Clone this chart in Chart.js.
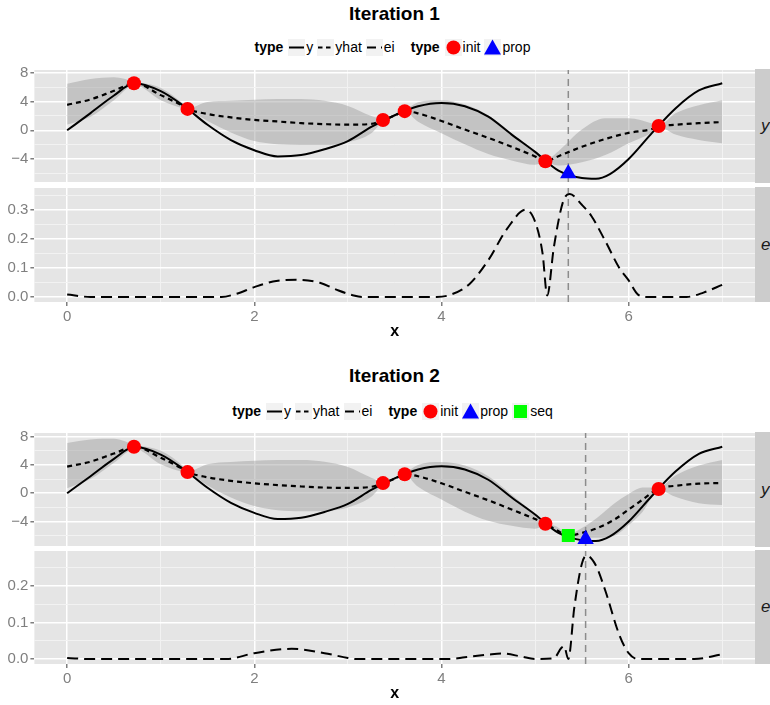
<!DOCTYPE html>
<html lang="en">
<head>
<meta charset="UTF-8">
<title>Iteration 1 / Iteration 2</title>
<style>
    body { margin: 0; background: #fff; font-family: 'Liberation Sans', Arial, sans-serif; }
    #wrap { position: relative; width: 770px; height: 705px; overflow: hidden; }
    canvas { position: absolute; left: 0; }
    .title { position: absolute; left: 34px; width: 721px; text-align: center; font-weight: bold; font-size: 19px; line-height: 22px; color: #000; }
    .legend { position: absolute; left: 34px; width: 721px; height: 20px; display: flex; justify-content: center; align-items: center; font-size: 14px; color: #000; }
    .legend b { margin-right: 5px; }
    .key { width: 17px; height: 17px; background: #F2F2F2; margin-right: 1px; }
    .key svg { display: block; }
    .lab { margin-right: 4px; }
    .gap { width: 12px; }
    .strip { position: absolute; left: 755px; width: 15px; background: #CCCCCC; overflow: hidden; font-style: italic; font-size: 17px; color: #1a1a1a; display: flex; align-items: center; }
    .strip span { padding-left: 6px; white-space: nowrap; }
</style>
<script src="https://cdn.jsdelivr.net/npm/chart.js"></script>
</head>
<body>
<div id="wrap">
    <div class="title" style="top:3px">Iteration 1</div>
    <div class="legend" id="leg1" style="top:37px"></div>
    <canvas id="c1y"></canvas>
    <canvas id="c1e"></canvas>
    <div class="title" style="top:365px">Iteration 2</div>
    <div class="legend" id="leg2" style="top:401px"></div>
    <canvas id="c2y"></canvas>
    <canvas id="c2e"></canvas>
</div>
<script>
    // ---- data ----
    const xTicks = [0, 1, 2, 3, 4, 5, 6, 7];
    const yTicks = [-6, -4, -2, 0, 2, 4, 6, 8];
    const eiTicks1 = [0, 0.05, 0.1, 0.15, 0.2, 0.25, 0.3, 0.35];
    const eiTicks2 = [0, 0.05, 0.1, 0.15, 0.2, 0.25];

    // true function y (same in both iterations)
    const yX = [0, 0.25, 0.5, 0.72, 1.0, 1.25, 1.5, 1.75, 2.0, 2.25, 2.5, 2.75, 3.0, 3.25, 3.5, 3.75, 4.0, 4.25, 4.5, 4.75, 5.0, 5.25, 5.5, 5.65, 5.8, 6.0, 6.25, 6.5, 6.75, 7.0];
    const yTrue = [0, 2.4, 4.85, 6.55, 5.45, 3.35, 0.77, -1.36, -2.77, -3.64, -3.45, -2.64, -1.5, 0.47, 2.1, 3.36, 3.82, 3.36, 1.9, -0.6, -3.0, -5.6, -6.64, -6.75, -6.1, -4.0, -0.36, 3.05, 5.55, 6.55];

    // initial design points
    const initX = [0.714, 1.286, 3.375, 3.607, 5.11, 6.32];
    const initY = [6.55, 2.98, 1.43, 2.67, -4.3, 0.6];

    // iteration 1: model mean and band
    const bandX1 = [0, 0.25, 0.5, 0.72, 1.0, 1.25, 1.29, 1.5, 1.75, 2.0, 2.25, 2.5, 2.75, 3.0, 3.25, 3.38, 3.5, 3.61, 3.75, 4.0, 4.25, 4.5, 4.75, 5.0, 5.11, 5.25, 5.5, 5.75, 6.0, 6.25, 6.32, 6.5, 6.75, 7.0];
    const yhat1 = [3.55, 4.3, 5.5, 6.55, 4.9, 3.3, 2.97, 2.27, 1.8, 1.45, 1.23, 1.0, 0.86, 0.78, 0.9, 1.45, 2.05, 2.68, 2.36, 1.3, 0.1, -1.05, -2.3, -3.64, -4.32, -3.6, -2.3, -1.2, -0.36, 0.18, 0.55, 0.77, 1.0, 1.14];
    const hi1 = [6.5, 7.15, 7.4, 6.8, 5.9, 3.6, 3.1, 3.95, 4.1, 4.27, 4.36, 4.36, 4.1, 3.4, 2.0, 1.6, 2.2, 2.8, 3.9, 4.18, 3.6, 2.1, -0.4, -2.9, -4.1, -2.9, 0.1, 1.68, 1.68, 0.95, 0.65, 2.36, 3.5, 4.18];
    const lo1 = [0.8, 1.9, 4.2, 6.3, 4.2, 3.0, 2.85, 1.3, -0.3, -1.5, -1.95, -2.05, -2.05, -1.65, -0.4, 1.3, 1.9, 2.55, 1.2, -0.4, -1.95, -3.3, -4.2, -4.8, -4.5, -4.9, -4.45, -3.45, -1.8, -0.3, 0.45, -0.6, -1.36, -1.8];
    const propX1 = 5.355, propY1 = -6.0;
    const eiX1 = [0, 0.25, 0.5, 1.0, 1.5, 1.65, 1.8, 2.0, 2.2, 2.45, 2.7, 2.9, 3.05, 3.15, 3.5, 3.95, 4.1, 4.3, 4.5, 4.7, 4.9, 5.0, 5.08, 5.13, 5.2, 5.3, 5.37, 5.5, 5.6, 5.75, 5.9, 6.0, 6.1, 6.2, 6.5, 6.62, 6.8, 7.0];
    const ei1 = [0.008, 0, 0, 0, 0, 0, 0.01, 0.034, 0.053, 0.059, 0.049, 0.022, 0.006, 0, 0, 0, 0.008, 0.045, 0.127, 0.235, 0.301, 0.26, 0.15, 0.005, 0.17, 0.33, 0.355, 0.318, 0.28, 0.193, 0.1, 0.057, 0.008, 0, 0, 0, 0.015, 0.042];

    // iteration 2
    const bandX2 = [0, 0.25, 0.5, 0.72, 1.0, 1.25, 1.29, 1.5, 1.75, 2.0, 2.25, 2.5, 2.75, 3.0, 3.25, 3.38, 3.5, 3.61, 3.75, 4.0, 4.25, 4.5, 4.75, 5.0, 5.11, 5.23, 5.355, 5.5, 5.65, 5.85, 6.0, 6.15, 6.32, 6.5, 6.75, 7.0];
    const yhat2 = [3.75, 4.45, 5.6, 6.55, 5.0, 3.3, 2.97, 2.25, 1.75, 1.4, 1.15, 0.95, 0.8, 0.75, 0.9, 1.45, 2.05, 2.68, 2.4, 1.4, 0.2, -1.0, -2.3, -3.65, -4.3, -5.2, -5.98, -5.6, -5.0, -3.7, -2.3, -0.9, 0.65, 1.05, 1.35, 1.45];
    const hi2 = [7.1, 7.6, 7.7, 6.85, 6.0, 3.7, 3.1, 4.1, 4.4, 4.6, 4.7, 4.7, 4.45, 3.7, 2.2, 1.6, 2.25, 2.85, 4.0, 4.4, 3.9, 2.4, -0.2, -2.9, -4.05, -4.7, -5.75, -4.9, -3.6, -1.4, -0.1, 0.8, 0.85, 2.5, 3.9, 4.7];
    const lo2 = [0.7, 2.0, 4.3, 6.25, 4.1, 2.95, 2.85, 1.1, -0.6, -1.8, -2.4, -2.55, -2.5, -2.0, -0.5, 1.3, 1.85, 2.5, 0.9, -0.9, -2.6, -3.9, -4.6, -5.0, -4.55, -5.6, -6.2, -6.3, -6.3, -6.0, -4.5, -2.6, 0.45, -0.5, -1.4, -1.65];
    const seqX2 = 5.355, seqY2 = -5.98;
    const propX2 = 5.54, propY2 = -6.5;
    const eiX2 = [0, 0.25, 1.0, 1.7, 2.0, 2.4, 2.75, 3.0, 3.1, 3.5, 4.1, 4.25, 4.5, 4.65, 4.85, 5.0, 5.2, 5.28, 5.31, 5.355, 5.42, 5.5, 5.55, 5.65, 5.75, 5.9, 6.0, 6.1, 6.5, 6.7, 7.0];
    const ei2 = [0.003, 0, 0, 0, 0.016, 0.028, 0.016, 0.003, 0, 0, 0, 0.005, 0.012, 0.015, 0.007, 0, 0.002, 0.03, 0.035, 0, 0.142, 0.26, 0.282, 0.255, 0.187, 0.066, 0.016, 0, 0, 0, 0.013];

    // ---- drawing ----
    Chart.defaults.font.family = "'Liberation Sans', Arial, sans-serif";
    Chart.defaults.font.size = 15;
    Chart.defaults.color = '#7F7F7F';

    const ribbon = 'rgba(153,153,153,0.45)';

    const panelBg = {
        id: 'panelBg',
        beforeDraw(chart) {
            const a = chart.chartArea, c = chart.ctx;
            c.save();
            c.fillStyle = '#E5E5E5';
            c.fillRect(a.left, a.top, a.right - a.left, a.bottom - a.top);
            c.restore();
        }
    };

    function pts(xs, ys) {
        return xs.map((x, i) => ({ x: x, y: ys[i] }));
    }

    function lineSet(xs, ys, dash, width) {
        return { data: pts(xs, ys), borderColor: '#000', borderWidth: width, borderDash: dash,
                 pointRadius: 0, fill: false, cubicInterpolationMode: 'monotone', order: 1 };
    }

    function pointSet(xs, ys, style, color, r) {
        return { data: pts(xs, ys), showLine: false, pointStyle: style, pointRadius: r,
                 backgroundColor: color, borderColor: color, pointBorderWidth: 0, order: 0 };
    }

    function vline(x, lo, hi) {
        return { data: [{ x: x, y: lo }, { x: x, y: hi }], borderColor: '#8C8C8C', borderWidth: 1.5,
                 borderDash: [7, 5], pointRadius: 0, tension: 0, fill: false, order: 2 };
    }

    function panel(id, top, bottom, yMin, yMax, ticks, isMajor, fmt, datasets, showX) {
        const cv = document.getElementById(id);
        const h = bottom - top;
        const extra = showX ? 39 : 10;
        cv.width = 755;
        cv.height = 10 + h + extra;
        cv.style.top = (top - 10) + 'px';

        const strip = document.createElement('div');
        strip.className = 'strip';
        strip.style.top = top + 'px';
        strip.style.height = h + 'px';
        strip.innerHTML = '<span>' + (showX ? 'ei' : 'y') + '</span>';
        document.getElementById('wrap').appendChild(strip);

        const xMajor = v => v % 2 === 0;
        return new Chart(cv, {
            type: 'line',
            data: { datasets: datasets },
            plugins: [panelBg],
            options: {
                responsive: false,
                animation: false,
                layout: { autoPadding: false, padding: { top: 10, bottom: showX ? 0 : 10, left: 0, right: 0 } },
                plugins: { legend: { display: false }, tooltip: { enabled: false } },
                scales: {
                    x: {
                        type: 'linear', min: -0.35, max: 7.35,
                        afterBuildTicks: s => { s.ticks = xTicks.map(v => ({ value: v })); },
                        afterFit: s => { s.height = showX ? 39 : 0; },
                        border: { display: false },
                        grid: {
                            color: c => xMajor(c.tick.value) ? '#FFFFFF' : '#F2F2F2',
                            lineWidth: c => xMajor(c.tick.value) ? 1.5 : 1,
                            drawTicks: showX, tickLength: 4,
                            tickColor: c => xMajor(c.tick.value) ? '#7F7F7F' : 'rgba(0,0,0,0)'
                        },
                        ticks: { display: showX, autoSkip: false, maxRotation: 0, padding: 2,
                                 callback: v => xMajor(v) ? String(v) : '' },
                        title: { display: showX, text: 'x', color: '#000',
                                 font: { size: 16, weight: 'bold' }, padding: { top: 0, bottom: 0 } }
                    },
                    y: {
                        min: yMin, max: yMax,
                        afterBuildTicks: s => { s.ticks = ticks.map(v => ({ value: v })); },
                        afterFit: s => { s.width = 34.4; },
                        border: { display: false },
                        grid: {
                            color: c => isMajor(c.tick.value) ? '#FFFFFF' : '#F2F2F2',
                            lineWidth: c => isMajor(c.tick.value) ? 1.5 : 1,
                            tickLength: 4,
                            tickColor: c => isMajor(c.tick.value) ? '#7F7F7F' : 'rgba(0,0,0,0)'
                        },
                        ticks: { autoSkip: false, padding: 2, callback: v => isMajor(v) ? fmt(v) : '' }
                    }
                }
            }
        });
    }

    const yMajor = v => Math.round(v) % 4 === 0;
    const yFmt = v => String(v).replace('-', '\u2212');
    const eMajor = v => Math.round(v * 100) % 10 === 0;
    const eFmt = v => v.toFixed(1);

    function topSets(bx, yh, lo, hi, propX, propY, yMin, yMax, withSeq) {
        const ds = [
            { data: pts(bx, lo), borderColor: 'rgba(0,0,0,0)', borderWidth: 0, pointRadius: 0, fill: false, cubicInterpolationMode: 'monotone', order: 3 },
            { data: pts(bx, hi), borderColor: 'rgba(0,0,0,0)', borderWidth: 0, pointRadius: 0, fill: { target: 0 }, backgroundColor: ribbon, cubicInterpolationMode: 'monotone', order: 3 },
            vline(propX, yMin, yMax),
            lineSet(yX, yTrue, [], 2),
            lineSet(bx, yh, [5, 4], 2.2),
            pointSet(initX, initY, 'circle', '#FF0000', 7),
            pointSet([propX], [propY], 'triangle', '#0000FF', 9.5)
        ];
        if (withSeq) ds.push(pointSet([seqX2], [seqY2], 'rect', '#00FF00', 9.2));
        return ds;
    }

    // Iteration 1
    panel('c1y', 69, 183, -7.2, 8.4, yTicks, yMajor, yFmt,
        topSets(bandX1, yhat1, lo1, hi1, propX1, propY1, -7.2, 8.4, false), false);
    panel('c1e', 187, 302, -0.0175, 0.376, eiTicks1, eMajor, eFmt,
        [vline(propX1, -0.0175, 0.376), lineSet(eiX1, ei1, [11, 6], 2)], true);

    // Iteration 2
    panel('c2y', 432, 547, -7.45, 8.5, yTicks, yMajor, yFmt,
        topSets(bandX2, yhat2, lo2, hi2, propX2, propY2, -7.45, 8.5, true), false);
    panel('c2e', 550, 664, -0.0135, 0.2946, eiTicks2, eMajor, eFmt,
        [vline(propX2, -0.0135, 0.2946), lineSet(eiX2, ei2, [11, 6], 2)], true);

    // ---- legends ----
    function lineKey(dash) {
        return '<span class="key"><svg width="17" height="17"><line x1="1" y1="8.5" x2="16" y2="8.5" stroke="#000" stroke-width="2"' +
            (dash ? ' stroke-dasharray="' + dash + '"' : '') + '/></svg></span>';
    }
    const circleKey = '<span class="key"><svg width="17" height="17"><circle cx="8.5" cy="8.5" r="7" fill="#FF0000"/></svg></span>';
    const triKey = '<span class="key"><svg width="17" height="17"><polygon points="8.5,0.5 17,15.5 0,15.5" fill="#0000FF"/></svg></span>';
    const sqKey = '<span class="key"><svg width="17" height="17"><rect x="2" y="2" width="13" height="13" fill="#00FF00"/></svg></span>';

    function legendHtml(withSeq) {
        let s = '<b>type</b>' + lineKey('') + '<span class="lab">y</span>' +
            lineKey('4.5,3.5') + '<span class="lab">yhat</span>' +
            lineKey('9,5') + '<span class="lab">ei</span>' +
            '<span class="gap"></span><b>type</b>' + circleKey + '<span class="lab">init</span>' +
            triKey + '<span class="lab">prop</span>';
        if (withSeq) s += sqKey + '<span class="lab">seq</span>';
        return s;
    }
    document.getElementById('leg1').innerHTML = legendHtml(false);
    document.getElementById('leg2').innerHTML = legendHtml(true);
</script>
</body>
</html>
